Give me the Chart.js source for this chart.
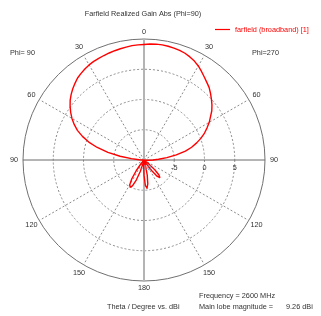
<!DOCTYPE html>
<html>
<head>
<meta charset="utf-8">
<script src="https://cdn.jsdelivr.net/npm/chart.js@4"></script>
<style>
  html, body { margin: 0; padding: 0; background: #fff; }
  canvas { display: block; }
</style>
</head>
<body>
<canvas id="chart" width="321" height="316"></canvas>
<script>
// theta sampled every 3 degrees, 0..180, for both half planes
const thetaStep = 3
const gainPhi270 = [
  9.1, 9.2, 9.25, 9.26, 9.22, 9.15, 9.05, 8.9, 8.65, 8.35,
  7.95, 7.45, 6.95, 6.5, 6.1, 5.55, 5.0, 4.45, 3.85, 3.1,
  2.45, 1.7, 0.95, 0.1, -0.85, -1.85, -3.0, -4.6, -6.2, -7.6,
  -8.5, -9.3, -9.8, -10, -10, -10, -10, -10, -10, -10,
  -10, -10, -10, -9.2, -7.6, -6.5, -6.1, -6.5, -7.8, -9.3,
  -10, -10, -10, -10, -10, -9.0, -7.4, -6.0, -5.3, -5.8,
  -7.5
]
const gainPhi90 = [
  9.1, 9.05, 9.0, 8.9, 8.8, 8.7, 8.6, 8.5, 8.4, 8.3,
  8.15, 7.95, 7.7, 7.45, 7.05, 6.65, 6.2, 5.7, 5.1, 4.45,
  3.75, 2.95, 2.05, 0.9, -0.4, -2.0, -3.9, -6.0, -7.9, -9.2,
  -9.8, -10, -10, -10, -10, -10, -10, -10, -10, -10,
  -10, -10, -10, -10, -10, -10, -10, -9.2, -7.8, -6.3,
  -5.3, -4.95, -5.3, -6.5, -8.0, -9.5, -10, -10, -10, -9.0,
  -7.5
]
const thetaTicks = [0, 30, 60, 90, 120, 150, 180]
const gainTicks = [-10, -5, 0, 5]
const gainMin = -10
const gainMax = 10

// clockwise from the top: phi=270 side first, then phi=90 side back up
const angles = []
const values = []
gainPhi270.forEach((v, i) => { angles.push(i * thetaStep); values.push(v) })
for (let i = gainPhi90.length - 2; i > 0; i--) {
  angles.push(360 - i * thetaStep)
  values.push(gainPhi90[i])
}

const FONT = '"Liberation Sans", Arial, sans-serif'
const isSpoke = idx => angles[idx] % 30 === 0

const textPlugin = {
  id: 'cstText',
  afterDraw(chart) {
    const ctx = chart.ctx
    const scale = chart.scales.r
    ctx.save()
    ctx.font = '7.3px ' + FONT
    ctx.textBaseline = 'middle'

    // theta labels round the outer circle
    ctx.fillStyle = '#333'
    ctx.textAlign = 'center'
    angles.forEach((a, idx) => {
      if (a % 30 !== 0) return
      const theta = a <= 180 ? a : 360 - a
      if (!thetaTicks.includes(theta)) return
      const p = scale.getPointPosition(idx, scale.drawingArea + (a === 0 || a === 180 ? 7 : 9))
      ctx.fillText(String(theta), p.x, p.y)
    })

    // gain labels along the phi=270 horizontal axis
    const right = angles.indexOf(90)
    gainTicks.forEach(g => {
      const p = scale.getPointPosition(right, scale.getDistanceFromCenterForValue(g))
      ctx.fillStyle = g === gainMin ? '#7f8fb0' : '#333'
      ctx.fillText(String(g), p.x + (g === gainMin ? 2 : 0), p.y + 8)
    })

    ctx.fillStyle = '#333'
    ctx.fillText('Farfield Realized Gain Abs (Phi=90)', 143, 14)
    ctx.textAlign = 'left'
    ctx.fillText('Phi= 90', 10, 53)
    ctx.fillText('Phi=270', 252, 53)
    ctx.fillText('Theta / Degree vs. dBi', 107, 307)
    ctx.fillText('Frequency = 2600 MHz', 199, 296)
    ctx.fillText('Main lobe magnitude =', 199, 307)
    ctx.fillText('9.26 dBi', 286, 307)

    // legend
    ctx.strokeStyle = '#ff0000'
    ctx.lineWidth = 1.2
    ctx.beginPath()
    ctx.moveTo(215, 29.5)
    ctx.lineTo(230, 29.5)
    ctx.stroke()
    ctx.fillStyle = '#ff0000'
    ctx.fillText('farfield (broadband) [1]', 235, 30)
    ctx.restore()
  }
}

new Chart(document.getElementById('chart'), {
  type: 'radar',
  data: {
    labels: angles,
    datasets: [{
      label: 'farfield (broadband) [1]',
      data: values.map(v => Math.max(v, gainMin)),
      borderColor: '#ff0000',
      borderWidth: 1.4,
      fill: false,
      pointRadius: 0,
      tension: 0
    }]
  },
  options: {
    responsive: false,
    animation: false,
    layout: { padding: { left: 23, right: 56, top: 39, bottom: 35 } },
    plugins: {
      legend: { display: false },
      title: { display: false },
      tooltip: { enabled: false }
    },
    elements: { line: { borderJoinStyle: 'round' } },
    scales: {
      r: {
        min: gainMin,
        max: gainMax,
        startAngle: 0,
        ticks: { display: false, stepSize: 5 },
        pointLabels: { display: false },
        grid: {
          circular: true,
          color: c => c.tick.value === gainMin ? 'rgba(0,0,0,0)' : (c.tick.value === gainMax ? '#707070' : '#8a8a8a'),
          lineWidth: 1
        },
        border: {
          dash: c => c.tick && c.tick.value === gainMax ? [] : [2, 2]
        },
        angleLines: {
          color: c => {
            if (!isSpoke(c.index)) return 'rgba(0,0,0,0)'
            const a = angles[c.index]
            if (a === 0 || a === 180) return '#b4b4b4'
            if (a === 90 || a === 270) return '#6a6a6a'
            return '#8a8a8a'
          },
          lineWidth: c => {
            if (!isSpoke(c.index)) return 0
            const a = angles[c.index]
            return a === 0 || a === 180 ? 2 : 1
          },
          borderDash: c => {
            const a = angles[c.index]
            return a % 90 === 0 ? [] : [2, 2]
          }
        }
      }
    }
  },
  plugins: [textPlugin]
})
</script>
</body>
</html>
